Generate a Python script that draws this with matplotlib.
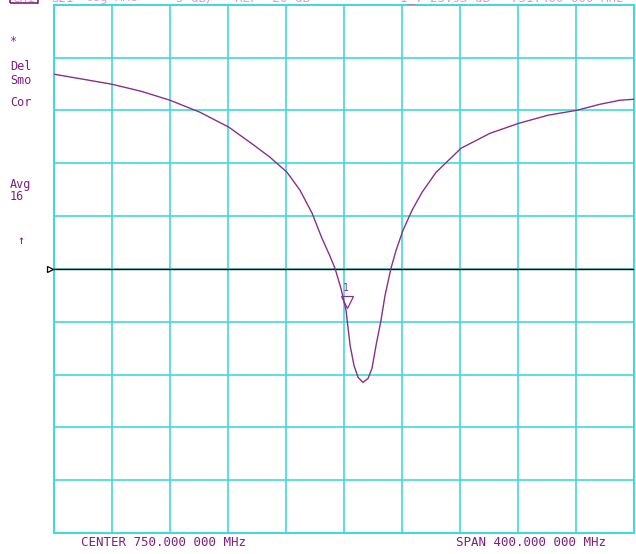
import numpy as np
import matplotlib
matplotlib.use("Agg")
import matplotlib.pyplot as plt
from matplotlib.patches import Rectangle
import matplotlib.transforms as mtransforms

# Network analyser trace: S21 log magnitude across the sweep
freq_mhz = [550.0, 570.0, 590.0, 610.0, 630.0, 650.7, 670.7, 687.9, 699.0, 710.7,
            719.7, 728.0, 734.8, 740.4, 743.8, 747.9, 751.4, 754.2, 756.9, 759.7,
            763.1, 766.6, 769.3, 772.1, 775.5, 778.3, 782.4, 785.9, 790.7, 796.9,
            803.8, 813.5, 830.7, 850.7, 870.7, 890.7, 910.7, 926.6, 940.4, 950.0]
s21_db = [-1.58, -2.05, -2.53, -3.19, -4.04, -5.18, -6.60, -8.30, -9.44, -10.86,
          -12.57, -14.74, -17.11, -18.82, -19.95, -21.85, -23.93, -27.24, -29.14, -30.27,
          -30.75, -30.37, -29.42, -27.24, -24.88, -22.51, -19.95, -18.25, -16.35, -14.46,
          -12.76, -10.86, -8.59, -7.17, -6.22, -5.46, -4.99, -4.42, -4.04, -3.95]

center_mhz = 750.0
span_mhz = 400.0
scale_db_per_div = 5.0
ref_db = -20.0
marker_mhz = 751.4
status_labels = ["*", "Del", "Smo", "Cor", "Avg", "16", "\u2191"]

W, H = 636, 554
fig = plt.figure(figsize=(W / 100, H / 100), dpi=100)
fig.patch.set_facecolor("white")

x0, x1, ytop, ybot = 54, 634, 4.7, 533
ax = fig.add_axes([x0 / W, 1 - ybot / H, (x1 - x0) / W, (ybot - ytop) / H])

grid_c = "#3fd9d9"
text_c = "#7d1f7d"
trace_c = "#86308a"

fstart = center_mhz - span_mhz / 2
fstop = center_mhz + span_mhz / 2
ylo = ref_db - 5 * scale_db_per_div
yhi = ref_db + 5 * scale_db_per_div
ax.set_xlim(fstart, fstop)
ax.set_ylim(ylo, yhi)
ax.set_xticks(np.linspace(fstart, fstop, 11))
ax.set_yticks(np.linspace(ylo, yhi, 11))
ax.tick_params(length=0, labelbottom=False, labelleft=False)
ax.grid(True, color=grid_c, linewidth=1.2)
for s in ax.spines.values():
    s.set_color(grid_c)
    s.set_linewidth(1.4)

# reference line and its pointer
ax.axhline(ref_db, color="black", linewidth=1.0, zorder=3)
ax.plot([fstart], [ref_db], marker=">", markersize=5, markerfacecolor="white",
        markeredgecolor="black", markeredgewidth=0.9, clip_on=False, zorder=4,
        transform=mtransforms.offset_copy(ax.transData, fig=fig, x=-4, y=0, units="dots"))

# measured trace
ax.plot(freq_mhz, s21_db, color=trace_c, linewidth=1.0, zorder=4)

# marker 1
marker_db = float(np.interp(marker_mhz, freq_mhz, s21_db))
off = mtransforms.offset_copy(ax.transData, fig=fig, x=1, y=8, units="dots")
ax.plot([marker_mhz], [marker_db], marker="v", markersize=9, markerfacecolor="none",
        markeredgecolor=trace_c, markeredgewidth=0.9, transform=off, zorder=5)
ax.text(marker_mhz, marker_db, "1", color=trace_c, fontsize=7, family="DejaVu Sans Mono",
        ha="center", va="center",
        transform=mtransforms.offset_copy(ax.transData, fig=fig, x=0, y=22, units="dots"))

mono = "DejaVu Sans Mono"

# status annotations down the left edge
status_y = [41.7, 67, 80.5, 102.7, 184, 196.5, 240.7]
status_x = [10, 10, 10, 10, 10, 10, 17]
for lab, yy, xx in zip(status_labels, status_y, status_x):
    fig.text(xx / W, 1 - yy / H, lab, color=text_c, fontsize=8.5, family=mono,
             ha="left", va="center")

# sweep annotation under the grid
fig.text(81 / W, 1 - 542 / H, f"CENTER {center_mhz:.3f} 000 MHz", color=text_c,
         fontsize=9, family=mono, ha="left", va="center")
fig.text(456 / W, 1 - 542 / H, f"SPAN {span_mhz:.3f} 000 MHz", color=text_c,
         fontsize=9, family=mono, ha="left", va="center")

# header line (mostly above the top edge)
hdr_y = 1 - 1.5 / H
fig.add_artist(Rectangle((10 / W, 1 - 2.5 / H), 28 / W, 14 / H, transform=fig.transFigure,
                         fill=False, edgecolor=text_c, linewidth=1.2))
header = [(12, "CH1"), (51, "S21"), (85, "log MAG"), (176, f"{scale_db_per_div:g} dB/"),
          (235, f"REF {ref_db:g} dB"), (400, f"1_:{marker_db:.2f} dB"),
          (511, f"{marker_mhz:.3f} 000 MHz")]
for xx, lab in header:
    fig.text(xx / W, hdr_y, lab, color="#d050c0", fontsize=9, family=mono,
             ha="left", va="baseline", alpha=0.6)

fig.savefig("out.png", dpi=100, facecolor="white")
